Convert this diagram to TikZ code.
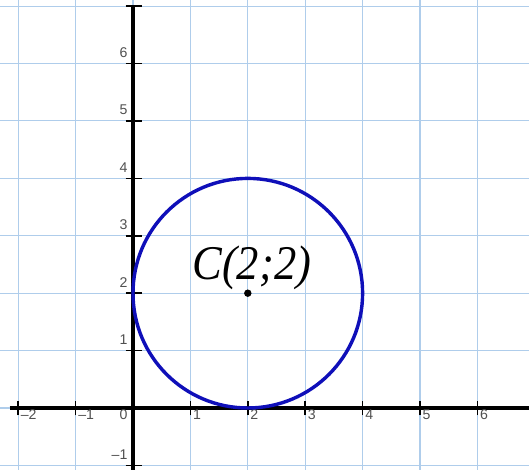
\documentclass[tikz,border=0pt]{standalone}
\usepackage{fontspec}
\setmainfont{Liberation Sans}
\newfontfamily\timesfont{Liberation Serif}
\definecolor{gridblue}{RGB}{175,205,235}
\definecolor{circblue}{RGB}{15,15,185}
\definecolor{labgray}{RGB}{80,80,80}
\tikzset{
  gridline/.style={draw=gridblue, line width=0.5pt},
  axisline/.style={draw=black, line width=2pt},
  tickmark/.style={draw=black, line width=0.7pt},
  numlab/.style={font=\fontsize{7}{8}\selectfont, text=labgray, inner sep=0pt},
}
\begin{document}
\begin{tikzpicture}[x=1cm,y=1cm]
\useasboundingbox[fill=white] (-2.317,-1.080) rectangle (6.899,7.108);
% grid
\foreach \i in {-2,...,6} \draw[gridline] (\i,-1.080) -- (\i,7.108);
\foreach \j in {-1,...,7} \draw[gridline] (-2.317,\j) -- (6.899,\j);
% axes
\coordinate (xl) at (-2.15,0);
\coordinate (xr) at (6.899,0);
\coordinate (yb) at (0,-1.080);
\coordinate (yt) at (0,7.0);
\draw[axisline] (xl) -- (xr);
\draw[axisline] (yb) -- (yt);
% ticks
\foreach \i in {-2,-1,1,2,3,4,5,6} \draw[tickmark] (\i,-0.13) -- (\i,0.13);
\foreach \j in {-1,1,2,3,4,5,6,7} \draw[tickmark] (-0.13,\j) -- (0.16,\j);
% labels
\foreach \i/\t in {-2/–2,-1/–1,1/1,2/2,3/3,4/4,5/5,6/6}
  \node[numlab, anchor=west] (xlab\i) at (\i+0.04,-0.11) {\t};
\foreach \j/\t in {-1/–1,1/1,2/2,3/3,4/4,5/5,6/6}
  \node[numlab, anchor=east] (ylab\j) at (-0.09,\j+0.19) {\t};
\node[numlab, anchor=east] (zero) at (-0.09,-0.11) {0};
% circle
\node[draw=circblue, line width=1.7pt, circle, minimum size=4cm, inner sep=0pt] (circ) at (2,2) {};
\fill[black] (2,2) circle (0.065);
\node[anchor=base, inner sep=0pt, xscale=0.92, font=\timesfont\itshape\fontsize{24}{27}\selectfont] (C) at (2.07,2.23) {C(2;2)};
\end{tikzpicture}
\end{document}
